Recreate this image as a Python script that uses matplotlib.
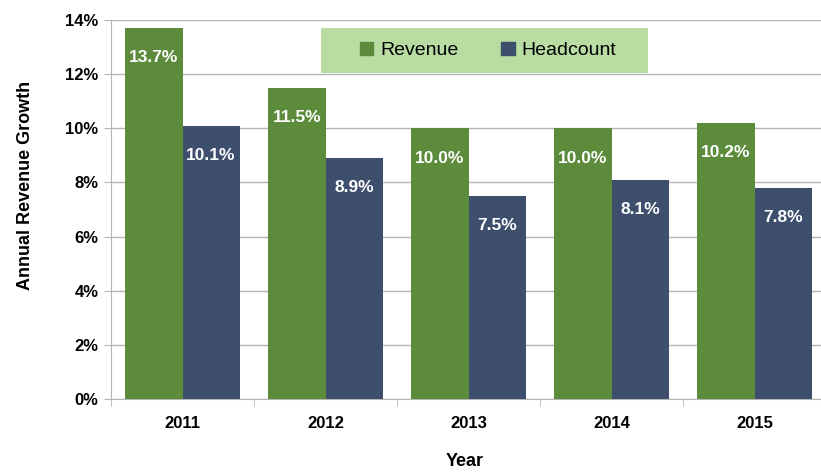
import matplotlib
matplotlib.use("Agg")
import matplotlib.pyplot as plt
import numpy as np
from matplotlib.patches import Patch, Rectangle

plt.rcParams['font.family'] = ['Liberation Sans', 'DejaVu Sans']

years = ["2011", "2012", "2013", "2014", "2015"]
revenue = [13.7, 11.5, 10.0, 10.0, 10.2]
headcount = [10.1, 8.9, 7.5, 8.1, 7.8]
yticks = [0, 2, 4, 6, 8, 10, 12, 14]

green = "#5b8b3b"
blue = "#3d4f6d"
gridc = "#b4b4b4"

fig = plt.figure(figsize=(8.21, 4.72), dpi=100)
ax = fig.add_axes([111/821, 1-399/472, 715/821, (399-20)/472])

x = np.arange(len(years))
w = 0.4
b1 = ax.bar(x - w/2, revenue, w, color=green, zorder=3)
b2 = ax.bar(x + w/2, headcount, w, color=blue, zorder=3)

for bars, vals in ((b1, revenue), (b2, headcount)):
    for r, v in zip(bars, vals):
        ax.annotate(f"{v:.1f}%", (r.get_x() + r.get_width()/2, v),
                    xytext=(0, -21.5), textcoords="offset points",
                    ha="center", va="center", color="white",
                    fontsize=12.5, fontweight="bold", zorder=4)

ax.set_xlim(-0.5, len(years) - 0.5)
ax.set_ylim(0, 14)
ax.set_yticks(yticks)
ax.set_yticklabels([f"{t}%" for t in yticks], fontsize=12, fontweight="bold")
ax.set_xticks(x)
ax.set_xticklabels(years, fontsize=12, fontweight="bold")
ax.tick_params(axis="x", length=0, pad=12)
ax.set_xticks(np.arange(-0.5, len(years), 1), minor=True)
ax.tick_params(axis="x", which="minor", length=5, color=gridc, direction="out")
ax.tick_params(axis="y", length=5, color=gridc, direction="out", pad=4)

ax.yaxis.grid(True, color=gridc, linewidth=1, zorder=0)
ax.set_axisbelow(True)
for s in ["top", "right"]:
    ax.spines[s].set_visible(False)
ax.spines["left"].set_color(gridc)
ax.spines["bottom"].set_color(gridc)

ax.set_ylabel("Annual Revenue Growth", fontsize=13, fontweight="bold", labelpad=0)
ax.yaxis.set_label_coords((34 - 111)/715, (399 - 185)/379)
fig.text(465/821, 1-462/472, "Year", ha="center", va="center", fontsize=13, fontweight="bold")

# legend background box
x0 = (321 - 111)/715
x1 = (648 - 111)/715
y_top = 1 - (28 - 20)/379
y_bot = 1 - (73 - 20)/379
ax.add_patch(Rectangle((x0, y_bot), x1 - x0, y_top - y_bot, transform=ax.transAxes,
                       facecolor="#b8dca2", edgecolor="none", zorder=5, clip_on=False))

handles = [Patch(color=green, label="Revenue"), Patch(color=blue, label="Headcount")]
leg = ax.legend(handles=handles, loc="center",
                bbox_to_anchor=((488 - 111)/715, 1 - 30.5/379),
                ncol=2, frameon=False, fontsize=14,
                handlelength=0.7, handleheight=0.7, handletextpad=0.35,
                columnspacing=2.2, borderpad=0, borderaxespad=0)
leg.set_zorder(6)

fig.savefig("out.png", dpi=100)
